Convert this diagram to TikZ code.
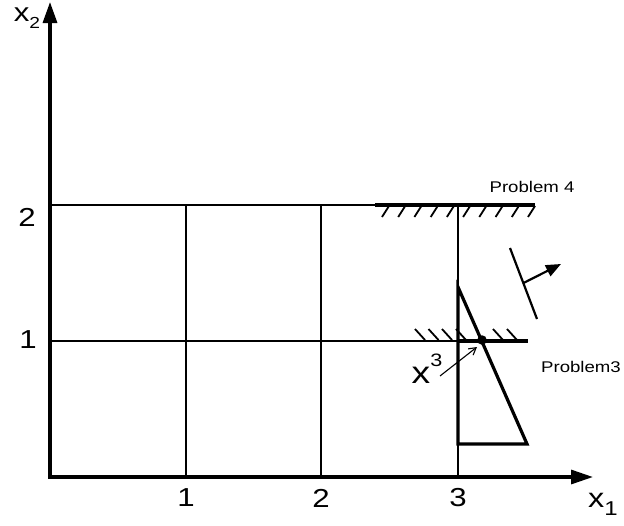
\documentclass[tikz,border=0pt]{standalone}
\usepackage{fontspec}
\setmainfont{Liberation Sans}[FakeStretch=1.2]
\usetikzlibrary{arrows.meta}
\begin{document}
\begin{tikzpicture}[x=1pt,y=-1pt,
  axis/.style={line width=3.2pt},
  gridline/.style={line width=1.6pt},
  boldline/.style={line width=3.2pt},
  hatchline/.style={line width=1.8pt},
  lbl/.style={inner sep=0pt, anchor=center},
  num/.style={lbl, font=\fontsize{26}{26}\selectfont}
]
\useasboundingbox (0,0) rectangle (624,525);
% key coordinates
\coordinate (O) at (50,477);
\coordinate (Ytip) at (50,2);
\coordinate (Xtip) at (593,477);
\coordinate (A2) at (50,205);
\coordinate (B2) at (375,205);
\coordinate (C2) at (535,205);
\coordinate (A1) at (50,341);
\coordinate (B1) at (458,341);
\coordinate (C1) at (528,341);
\coordinate (V1t) at (186,205);
\coordinate (V1m) at (186,322);
\coordinate (V1b) at (186,477);
\coordinate (V2t) at (321,205);
\coordinate (V2b) at (321,477);
\coordinate (V3t) at (458,205);
\coordinate (V3b) at (458,477);
\coordinate (T1) at (458,287);
\coordinate (T2) at (527,444);
\coordinate (T3) at (458,444);
% grid
\draw[gridline] (A2) -- (B2);
\draw[gridline] (A1) -- (B1);
\draw[line width=2.2pt] (V1t) -- (V1m);
\draw[gridline] (V1m) -- (V1b);
\draw[gridline] (V2t) -- (V2b);
\draw[gridline] (V3t) -- (V3b);
% axes
\draw[axis, {Triangle[length=21pt,width=14pt]}-{Triangle[length=22pt,width=14pt]}] (Ytip) -- (O) -- (Xtip);
% Problem 4 constraint
\draw[boldline] (B2) -- (C2);
\foreach \x in {382,398.2,414.4,430.7,446.9,463.1,479.3,495.6,511.8,528} {
  \draw[hatchline] (\x,217) -- ++(7,-11);
}
% Problem 3 constraint
\draw[boldline] (B1) -- (C1);
\foreach \x in {415,428.5,442,456,493,507} {
  \draw[hatchline] (\x,329) -- ++(10,11);
}
% triangle
\draw[boldline, line join=miter] (T1) -- (T2) -- (T3) -- cycle;
% dot
\node[circle, fill=black, inner sep=0pt, minimum size=9.5pt] (dot) at (482,340) {};
% gradient arrow
\coordinate (G1) at (510,248);
\coordinate (G2) at (537,319);
\coordinate (Gs) at (523.5,283);
\coordinate (Ge) at (561,264);
\draw[line width=2.2pt] (G1) -- (G2);
\draw[line width=2.2pt, -{Triangle[length=15pt,width=12pt]}] (Gs) -- (Ge);
% labels
\node[lbl, font=\fontsize{15.5}{15.5}\selectfont] (p4) at (532,187) {Problem 4};
\node[lbl, font=\fontsize{15.5}{15.5}\selectfont] (p3) at (581,367) {Problem3};
\node[lbl] (x3) at (427,369) {\fontsize{31}{31}\selectfont x\raisebox{0.55em}{\fontsize{18}{18}\selectfont 3}};
\coordinate (x3s) at (440,376);
\draw[line width=1.1pt, -{Straight Barb[length=7pt,width=8pt]}] (x3s) -- (477,347);
\node[num] (n1) at (186,498) {1};
\node[num] (n2) at (321,498) {2};
\node[num] (n3) at (458,498) {3};
\node[num] (m2) at (27,217) {2};
\node[num] (m1) at (28,340) {1};
\node[lbl] (xl1) at (603,504) {\fontsize{27}{27}\selectfont x\raisebox{-0.3em}{\fontsize{20}{20}\selectfont 1}};
\node[lbl] (xl2) at (27,18) {\fontsize{26}{26}\selectfont x\raisebox{-0.25em}{\fontsize{16}{16}\selectfont 2}};
\end{tikzpicture}
\end{document}
